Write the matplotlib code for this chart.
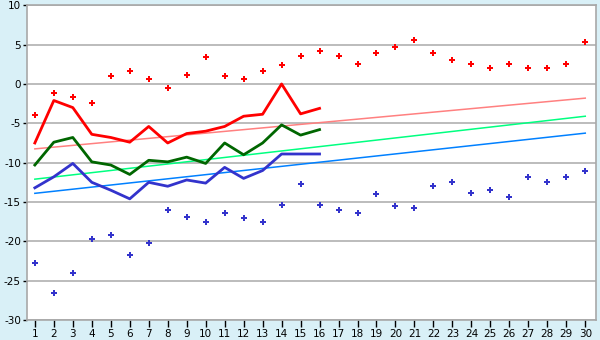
import matplotlib
matplotlib.use("Agg")
import matplotlib.pyplot as plt

days = list(range(1, 31))
max_pts = [-4.0, -1.2, -1.7, -2.4, 1.0, 1.6, 0.6, -0.5, 1.1, 3.4,
           1.0, 0.6, 1.6, 2.4, 3.5, 4.2, 3.5, 2.6, 3.9, 4.7,
           5.6, 3.9, 3.0, 2.6, 2.0, 2.5, 2.0, 2.0, 2.5, 5.3]
min_pts = [-22.8, -26.6, -24.0, -19.7, -19.2, -21.7, -20.2, -16.0, -16.9, -17.6,
           -16.4, -17.0, -17.6, -15.4, -12.7, -15.4, -16.0, -16.4, -14.0, -15.5,
           -15.8, -13.0, -12.5, -13.9, -13.5, -14.4, -11.8, -12.5, -11.8, -11.1]
line_days = list(range(1, 17))
max_line = [-7.5, -2.1, -3.0, -6.4, -6.8, -7.4, -5.4, -7.5, -6.3, -6.0,
            -5.4, -4.1, -3.85, 0.0, -3.8, -3.1]
mean_line = [-10.3, -7.4, -6.8, -9.9, -10.3, -11.5, -9.7, -9.9, -9.3, -10.1,
             -7.5, -9.0, -7.5, -5.2, -6.5, -5.8]
min_line = [-13.2, -11.8, -10.1, -12.5, -13.5, -14.6, -12.5, -13.0, -12.2, -12.6,
            -10.6, -12.0, -11.0, -8.9, -8.9, -8.9]
trend_days = [1, 30]
trend_max = [-8.25, -1.8]
trend_mean = [-12.1, -4.1]
trend_min = [-13.9, -6.25]

bg = "#d9f0f7"
fig = plt.figure(figsize=(6, 3.4), dpi=100, facecolor=bg)
ax = fig.add_axes([26.5/600, 1 - 320/340, (595.7-26.5)/600, (320-5.3)/340])
ax.set_facecolor("white")

for s in ax.spines.values():
    s.set_color("#a8a8a8")
    s.set_linewidth(1.2)

ax.set_xlim(0.56, 30.55)
ax.set_ylim(-30, 10)
ax.set_yticks(range(-30, 11, 5))
ax.set_xticks(days)
ax.yaxis.grid(True, color="#b0b0b0", linewidth=1.2)
ax.set_axisbelow(True)
ax.tick_params(axis="both", colors="black", labelsize=7.5, length=5, width=1, direction="out")
ax.tick_params(axis="y", length=3, pad=1)
ax.tick_params(axis="x", pad=1.5)
ax.set_yticklabels([f"-{abs(v)}" if v < 0 else str(v) for v in range(-30, 11, 5)])

ax.plot(trend_days, trend_max, color="#ff8080", lw=1.1)
ax.plot(trend_days, trend_mean, color="#00ff80", lw=1.1)
ax.plot(trend_days, trend_min, color="#0080ff", lw=1.1)

ax.plot(line_days, max_line, color="#ff0000", lw=2)
ax.plot(line_days, mean_line, color="#006600", lw=2)
ax.plot(line_days, min_line, color="#3333cc", lw=2)

ax.plot(days, max_pts, linestyle="none", marker="P", color="#ff0000", markersize=5, markeredgewidth=0)
ax.plot(days, min_pts, linestyle="none", marker="P", color="#3333cc", markersize=5, markeredgewidth=0)

fig.savefig("out.png", dpi=100, facecolor=bg)
